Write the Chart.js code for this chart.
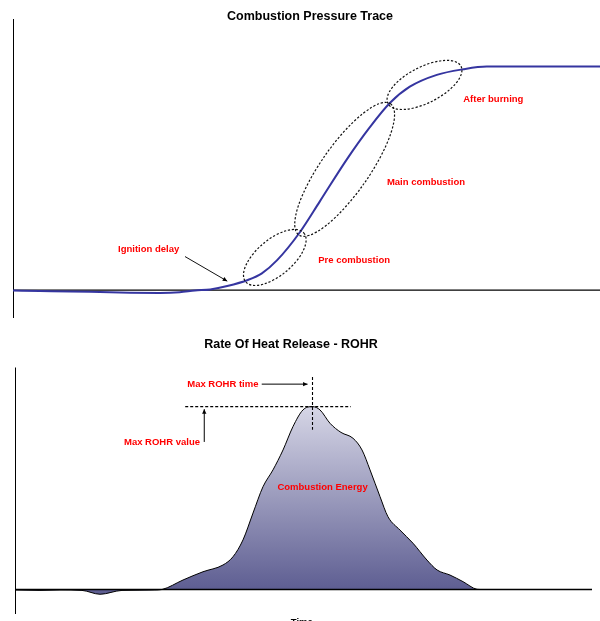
<!DOCTYPE html>
<html>
<head>
<meta charset="utf-8">
<script src="https://cdn.jsdelivr.net/npm/chart.js@4.4.0/dist/chart.umd.min.js"></script>
<style>
body { margin:0; background:#fff; }
#wrap { position:relative; width:600px; height:621px; overflow:hidden; }
canvas { position:absolute; left:0; }
#pressure { top:0; }
#rohr { top:320px; }
</style>
</head>
<body>
<div id="wrap">
  <canvas id="pressure" width="600" height="320"></canvas>
  <canvas id="rohr" width="600" height="301"></canvas>
</div>
<script>
// time in % of the window, values in % of their peak
const pressureTime  = [0,4.6,9.7,14.8,19.9,25.0,28.4,31.0,33.6,36.5,40.0,42.4,45.0,48.9,52.3,56.9,60.8,64.2,67.6,72.2,76.7,80.7,86.4,100];
const pressureValue = [-0.2,-0.4,-0.6,-0.9,-1.2,-1.3,-1.0,-0.2,0.3,1.8,4.5,7.5,13.4,26.0,39.8,58.6,72.9,83.7,91.0,96.3,98.8,100,100,100];

const rohrTime  = [0,4.33,7.80,11.61,14.73,18.54,21.66,24.26,25.48,29.12,32.58,36.05,37.78,39.51,41.25,42.98,44.71,46.45,48.18,49.91,51.56,52.86,54.59,56.50,58.58,60.14,61.53,63.26,64.64,66.72,68.98,71.40,73.14,75.39,77.64,80.07,80.59,100];
const rohrValue = [-0.3,-0.5,-0.3,-0.5,-2.6,-0.5,-0.4,-0.3,0,5.2,9.7,13.4,17.9,27.1,41.8,56.2,65.4,76.3,89.1,98.2,100,98.2,90.9,85.9,82.7,76.3,65.4,50.8,39.8,32.5,25.3,16.1,10.7,7.9,4.3,0.1,0,0];

// annotations (data coords for anchors)
const phaseEllipses = [
  { t:44.6, p:14.6, rx:38, ry:18, rot:-40 },
  { t:56.5, p:54.0, rx:80, ry:24, rot:-55 },
  { t:70.1, p:91.8, rx:41, ry:18, rot:-27 }
];
const phaseLabels = [
  { text:"Ignition delay",  t:17.9, p:18.4 },
  { text:"Pre combustion",  t:52.0, p:13.1 },
  { text:"Main combustion", t:63.7, p:48.0 },
  { text:"After burning",   t:76.7, p:85.5 }
];

const FONT = "'Liberation Sans', Arial, sans-serif";
const RED = "#ff0000";

function arrow(ctx, x1, y1, x2, y2) {
  const a = Math.atan2(y2 - y1, x2 - x1);
  ctx.beginPath(); ctx.moveTo(x1, y1); ctx.lineTo(x2, y2); ctx.stroke();
  ctx.beginPath();
  ctx.moveTo(x2, y2);
  ctx.lineTo(x2 - 5 * Math.cos(a - 0.45), y2 - 5 * Math.sin(a - 0.45));
  ctx.lineTo(x2 - 5 * Math.cos(a + 0.45), y2 - 5 * Math.sin(a + 0.45));
  ctx.closePath(); ctx.fill();
}

function drawAxes(chart) {
  const ctx = chart.ctx, a = chart.chartArea, y0 = chart.scales.y.getPixelForValue(0);
  ctx.save();
  ctx.strokeStyle = "#000";
  ctx.lineWidth = 1;
  ctx.beginPath(); ctx.moveTo(a.left + 0.5, a.top); ctx.lineTo(a.left + 0.5, a.bottom); ctx.stroke();
  ctx.lineWidth = 1.3;
  ctx.beginPath(); ctx.moveTo(a.left, y0); ctx.lineTo(a.right, y0); ctx.stroke();
  ctx.restore();
}

function drawTitle(chart, text, x, y) {
  const ctx = chart.ctx;
  ctx.save();
  ctx.font = "bold 12.5px " + FONT;
  ctx.fillStyle = "#000";
  ctx.textAlign = "center";
  ctx.textBaseline = "middle";
  ctx.fillText(text, x, y);
  ctx.restore();
}

const pressureDecor = {
  id: "pressureDecor",
  beforeDatasetsDraw(chart) { drawAxes(chart); },
  afterDatasetsDraw(chart) {
    const ctx = chart.ctx, xs = chart.scales.x, ys = chart.scales.y;
    drawTitle(chart, "Combustion Pressure Trace", 310, 17);
    ctx.save();
    ctx.strokeStyle = "#111";
    ctx.lineWidth = 1.2;
    ctx.setLineDash([2.2, 1.8]);
    phaseEllipses.forEach(e => {
      ctx.beginPath();
      ctx.ellipse(xs.getPixelForValue(e.t), ys.getPixelForValue(e.p), e.rx, e.ry, e.rot * Math.PI / 180, 0, Math.PI * 2);
      ctx.stroke();
    });
    ctx.setLineDash([]);
    ctx.lineWidth = 1;
    ctx.fillStyle = "#000";
    arrow(ctx, xs.getPixelForValue(29.3), ys.getPixelForValue(15.0), xs.getPixelForValue(36.5), ys.getPixelForValue(4.0));
    ctx.font = "bold 9.5px " + FONT;
    ctx.fillStyle = RED;
    ctx.textBaseline = "middle";
    phaseLabels.forEach(l => ctx.fillText(l.text, xs.getPixelForValue(l.t), ys.getPixelForValue(l.p)));
    ctx.restore();
  }
};

const rohrDecor = {
  id: "rohrDecor",
  afterDatasetsDraw(chart) {
    drawAxes(chart);
    const ctx = chart.ctx, xs = chart.scales.x, ys = chart.scales.y;
    drawTitle(chart, "Rate Of Heat Release - ROHR", 291, 25);
    ctx.save();
    ctx.strokeStyle = "#000";
    ctx.fillStyle = "#000";
    ctx.lineWidth = 1.1;
    ctx.setLineDash([3, 2]);
    const yPeak = ys.getPixelForValue(100), xPeak = xs.getPixelForValue(51.56);
    ctx.beginPath(); ctx.moveTo(xs.getPixelForValue(29.5), yPeak); ctx.lineTo(xs.getPixelForValue(58.2), yPeak); ctx.stroke();
    ctx.beginPath(); ctx.moveTo(xPeak, ys.getPixelForValue(116.2)); ctx.lineTo(xPeak, ys.getPixelForValue(87.3)); ctx.stroke();
    ctx.setLineDash([]);
    ctx.lineWidth = 1;
    arrow(ctx, xs.getPixelForValue(42.76), ys.getPixelForValue(112.3), xs.getPixelForValue(50.7), ys.getPixelForValue(112.3));
    arrow(ctx, xs.getPixelForValue(32.8), ys.getPixelForValue(80.7), xs.getPixelForValue(32.8), ys.getPixelForValue(98.6));

    ctx.font = "bold 9.5px " + FONT;
    ctx.fillStyle = RED;
    ctx.textBaseline = "middle";
    ctx.textAlign = "right";
    ctx.fillText("Max ROHR time", xs.getPixelForValue(42.2), ys.getPixelForValue(112.3));
    ctx.fillText("Max ROHR value", xs.getPixelForValue(32.06), ys.getPixelForValue(80.7));
    ctx.textAlign = "center";
    ctx.fillText("Combustion Energy", xs.getPixelForValue(53.3), ys.getPixelForValue(55.7));
    ctx.fillStyle = "#000";
    ctx.textBaseline = "top";
    ctx.fillText("Time", xs.getPixelForValue(49.7), ys.getPixelForValue(-15.3));
    ctx.restore();
  }
};

const hidden = { display: false };

new Chart(document.getElementById("pressure"), {
  type: "line",
  data: {
    datasets: [{
      data: pressureTime.map((t, i) => ({ x: t, y: pressureValue[i] })),
      borderColor: "#3535a0",
      borderWidth: 2,
      pointRadius: 0,
      cubicInterpolationMode: "monotone",
      fill: false
    }]
  },
  options: {
    responsive: false,
    animation: false,
    layout: { padding: { left: 13, right: 0, top: 19, bottom: 2 } },
    plugins: { legend: hidden, title: hidden, tooltip: { enabled: false } },
    scales: {
      x: { type: "linear", min: 0, max: 100, display: false },
      y: { min: -12.5, max: 121.3, display: false }
    }
  },
  plugins: [pressureDecor]
});

new Chart(document.getElementById("rohr"), {
  type: "line",
  data: {
    datasets: [{
      data: rohrTime.map((t, i) => ({ x: t, y: rohrValue[i] })),
      borderColor: "#000",
      borderWidth: 1,
      pointRadius: 0,
      cubicInterpolationMode: "monotone",
      fill: "origin",
      backgroundColor: ctx => {
        const c = ctx.chart, ys = c.scales.y;
        if (!c.chartArea || !ys) return "#8080b0";
        const g = c.ctx.createLinearGradient(0, ys.getPixelForValue(100), 0, ys.getPixelForValue(0));
        g.addColorStop(0, "rgb(214,214,230)");
        g.addColorStop(1, "rgb(94,94,146)");
        return g;
      }
    }]
  },
  options: {
    responsive: false,
    animation: false,
    layout: { padding: { left: 15, right: 8, top: 47.5, bottom: 7 } },
    plugins: { legend: hidden, title: hidden, tooltip: { enabled: false } },
    scales: {
      x: { type: "linear", min: 0, max: 100, display: false },
      y: { min: -13.4, max: 121.4, display: false }
    }
  },
  plugins: [rohrDecor]
});
</script>
</body>
</html>
